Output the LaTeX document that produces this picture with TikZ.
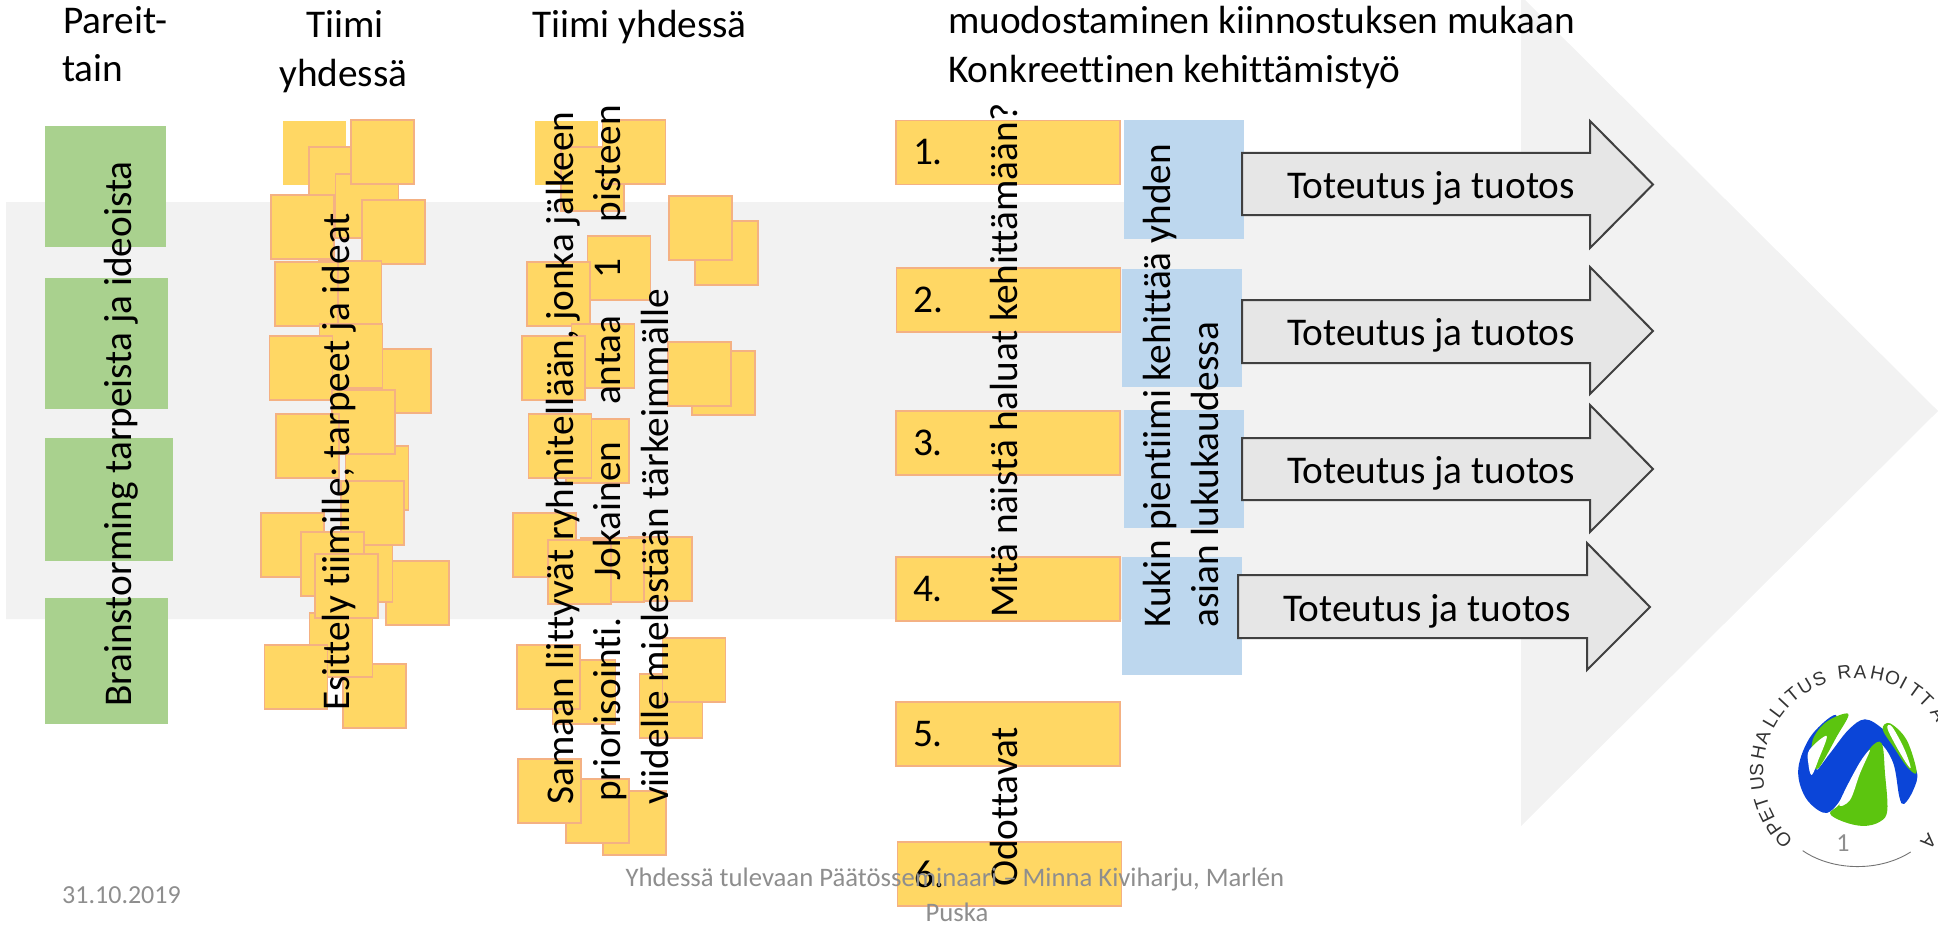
\documentclass[tikz,border=0pt]{standalone}
\usepackage{fontspec}
\setmainfont{Carlito}[Ligatures=CommonOff]
\newfontfamily\logofont{Liberation Sans}
\definecolor{notefill}{HTML}{FFD764}
\definecolor{noteline}{HTML}{F4B183}
\definecolor{greenfill}{HTML}{A9D18E}
\definecolor{bluefill}{HTML}{BDD7EE}
\definecolor{bigarrow}{HTML}{F2F2F2}
\definecolor{arrowfill}{HTML}{E6E6E6}
\definecolor{arrowline}{HTML}{404040}
\definecolor{footgray}{HTML}{8E8E8E}
\definecolor{logoblue}{HTML}{0B45D8}
\definecolor{logogreen}{HTML}{5CC50F}
\tikzset{
  bigtext/.style={font=\fontsize{39.3}{46}\selectfont,inner sep=0pt,anchor=base west},
  uptext/.style={bigtext,rotate=90},
  foottext/.style={font=\fontsize{26.7}{32}\selectfont,text=footgray,inner sep=0pt},
  plainnote/.style={fill=notefill,minimum width=63pt,minimum height=64pt,inner sep=0pt},
  stickynote/.style={plainnote,draw=noteline,line width=1.3pt},
  rowbox/.style={fill=notefill,draw=noteline,line width=1.3pt,minimum width=224pt,minimum height=64pt,
    inner xsep=17pt,inner ysep=0pt,text width=190pt,align=left,font=\fontsize{39.3}{46}\selectfont},
  bluebox/.style={fill=bluefill,minimum width=120pt,minimum height=118pt,inner sep=0pt},
  greenbox/.style={fill=greenfill,inner sep=0pt},
  doarrow/.style={fill=arrowfill,draw=arrowline,line width=2pt,miter limit=10},
  logoletter/.style={font=\logofont\fontsize{19}{19}\selectfont,text=black!80,inner sep=0pt}
}
\begin{document}
\begin{tikzpicture}[x=1pt,y=-1pt]
  \useasboundingbox (0,0) rectangle (1938,931);
  \clip (0,0) rectangle (1938,931);
  % Draw big background arrow
  \fill[bigarrow] (6,202) -- (1521,202) -- (1521,-4) -- (1938,411) -- (1521,826) -- (1521,619) -- (6,619) -- cycle;
  % Draw green boxes
  \node[greenbox,minimum width=121pt,minimum height=121pt] (g1) at (105.5,186.5) {};
  \node[greenbox,minimum width=123pt,minimum height=131pt] (g2) at (106.5,343.5) {};
  \node[greenbox,minimum width=128pt,minimum height=123pt] (g3) at (109,499.5) {};
  \node[greenbox,minimum width=123pt,minimum height=126pt] (g4) at (106.5,661) {};
  % Draw notes of the second column
  \node[plainnote] (ta1) at (314.5,153) {};
  \node[stickynote] (ta2) at (340.5,179) {};
  \node[stickynote] (ta3) at (367,206) {};
  \node[stickynote] (ta4) at (382.5,152) {};
  \node[stickynote] (ta5) at (302.5,227) {};
  \node[stickynote] (ta6) at (393.5,232) {};
  \node[stickynote] (ta7) at (350,293) {};
  \node[stickynote] (ta8) at (306.5,294) {};
  \node[stickynote] (ta9) at (399.5,381) {};
  \node[stickynote] (ta10) at (351,356) {};
  \node[stickynote] (ta11) at (301,368) {};
  \node[stickynote] (ta12) at (377,478) {};
  \node[stickynote] (ta13) at (363.5,422) {};
  \node[stickynote] (ta14) at (307.5,446) {};
  \node[stickynote] (ta15) at (292.5,545) {};
  \node[stickynote] (ta16) at (417.5,593) {};
  \node[stickynote] (ta17) at (361,570) {};
  \node[stickynote] (ta18) at (372.5,513) {};
  \node[stickynote] (ta19) at (332.5,564) {};
  \node[stickynote] (ta20) at (374.5,696) {};
  \node[stickynote] (ta21) at (341,645) {};
  \node[stickynote] (ta22) at (296,677) {};
  \node[stickynote] (ta23) at (346.5,586) {};
  % Draw notes of the third column
  \node[plainnote] (tb1) at (566.5,153) {};
  \node[stickynote] (tb2) at (592.5,179) {};
  \node[stickynote] (tb3) at (634,152) {};
  \node[stickynote] (tb4) at (726.5,253) {};
  \node[stickynote] (tb5) at (700.5,228) {};
  \node[stickynote] (tb6) at (619,268) {};
  \node[stickynote] (tb7) at (558.5,294) {};
  \node[stickynote] (tb8) at (603,356) {};
  \node[stickynote] (tb9) at (553.5,368) {};
  \node[stickynote] (tb10) at (723.5,383) {};
  \node[stickynote] (tb11) at (699.5,374) {};
  \node[stickynote] (tb12) at (597.5,451) {};
  \node[stickynote] (tb13) at (560,446) {};
  \node[stickynote] (tb14) at (544.5,545) {};
  \node[stickynote] (tb15) at (660.5,569) {};
  \node[stickynote] (tb16) at (612.5,570) {};
  \node[stickynote] (tb17) at (579.5,572) {};
  \node[stickynote] (tb18) at (584,692) {};
  \node[stickynote] (tb19) at (548.5,677) {};
  \node[stickynote] (tb20) at (671,706) {};
  \node[stickynote] (tb21) at (694,670) {};
  \node[stickynote] (tb22) at (634.5,823) {};
  \node[stickynote] (tb23) at (597.5,811) {};
  \node[stickynote] (tb24) at (549.5,791) {};
  % Draw numbered rows
  \node[rowbox] (r1) at (1008,152.5) {1.};
  \node[rowbox] (r2) at (1008.5,300) {2.};
  \node[rowbox] (r3) at (1008,443) {3.};
  \node[rowbox] (r4) at (1008,589) {4.};
  \node[rowbox] (r5) at (1008,734) {5.};
  \node[rowbox] (r6) at (1009.5,874) {6.};
  % Draw blue boxes
  \node[bluebox] (b1) at (1184,179.5) {};
  \node[bluebox] (b2) at (1182,328) {};
  \node[bluebox] (b3) at (1184,468.5) {};
  \node[bluebox] (b4) at (1182,616) {};
  % Draw result arrows
  \draw[doarrow] (1242,153) -- (1590,153) -- (1590,121) -- (1653,184.5) -- (1590,248) -- (1590,215) -- (1242,215) -- cycle;
  \draw[doarrow] (1242,300) -- (1590,300) -- (1590,267) -- (1653,331) -- (1590,394) -- (1590,363) -- (1242,363) -- cycle;
  \draw[doarrow] (1242,438) -- (1590,438) -- (1590,405) -- (1653,469) -- (1590,532) -- (1590,500) -- (1242,500) -- cycle;
  \draw[doarrow] (1238,575) -- (1587,575) -- (1587,543) -- (1650,607) -- (1587,670) -- (1587,638) -- (1238,638) -- cycle;
  \node[bigtext] (o1) at (1287,198) {Toteutus ja tuotos};
  \node[bigtext] (o2) at (1287,345) {Toteutus ja tuotos};
  \node[bigtext] (o3) at (1287,483) {Toteutus ja tuotos};
  \node[bigtext] (o4) at (1283,621) {Toteutus ja tuotos};
  % Draw titles
  \node[bigtext] (h1) at (63,34) {Pareit-};
  \node[bigtext] (h1b) at (62,82) {tain};
  \node[bigtext] (h2) at (306,38) {Tiimi};
  \node[bigtext] (h2b) at (279,87) {yhdessä};
  \node[bigtext] (h3) at (532,38) {Tiimi yhdessä};
  \node[bigtext] (h4) at (948,34) {muodostaminen kiinnostuksen mukaan};
  \node[bigtext] (h4b) at (948,83) {Konkreettinen kehittämistyö};
  % Draw vertical texts
  \node[uptext] (v1) at (131,707) {Brainstorming tarpeista ja ideoista};
  \node[uptext] (v2) at (349,711) {Esittely tiimille; tarpeet ja ideat};
  \node[uptext] (v3) at (573,805) {Samaan liittyvät ryhmitellään, jonka jälkeen};
  \node[uptext] (v3b) at (620,802) {\hbox to 697pt{priorisointi.\hfill Jokainen\hfill antaa\hfill 1\hfill pisteen}};
  \node[uptext] (v3c) at (668,805) {viidelle mielestään tärkeimmälle};
  \node[uptext] (v4) at (1017,618) {Mitä näistä haluat kehittämään?};
  \node[uptext] (v4b) at (1017,887) {Odottavat};
  \node[uptext] (v5) at (1170,628) {Kukin pientiimi kehittää yhden};
  \node[uptext] (v5b) at (1218,628) {asian lukukaudessa};
  % Draw footer
  \node[foottext,font=\fontsize{26}{32}\selectfont] (date) at (121.5,895) {31.10.2019};
  \node[foottext] (foot) at (955,880) {Yhdessä tulevaan Päätösseminaari -- Minna Kiviharju, Marlén};
  \node[foottext] (footb) at (957,912) {Puska};
  % Draw logo
  \begin{scope}[shift={(1680,640)},x=0.3333pt,y=-0.3333pt]
    \fill[logoblue] plot[smooth cycle,tension=0.6] coordinates {(470,228) (395,285) (355,385) (375,470) (430,518) (470,495) (520,410) (565,335) (600,310) (640,370) (658,470) (672,492) (700,450) (710,395) (660,320) (610,268) (555,238) (505,270) (450,340) (410,385)};
    \fill[logogreen] plot[smooth cycle,tension=0.6] coordinates {(398,300) (440,245) (505,222) (470,290) (415,385) (400,360)};
    \fill[white] plot[smooth cycle,tension=0.6] coordinates {(388,330) (440,288) (415,360) (395,405) (385,370)};
    \fill[logogreen] plot[smooth cycle,tension=0.6] coordinates {(608,268) (630,250) (680,300) (710,395) (685,385) (640,320)};
    \fill[white] plot[smooth cycle,tension=0.6] coordinates {(622,264) (636,260) (672,325) (692,382) (678,368) (645,312)};
    \fill[logogreen] plot[smooth cycle,tension=0.6] coordinates {(450,520) (480,490) (530,400) (570,325) (605,310) (615,400) (622,510) (600,545) (550,558) (490,545)};
    \fill[white] plot[smooth cycle,tension=0.6] coordinates {(478,490) (510,480) (540,400) (570,330) (535,375)};
    \draw[black!55,line width=0.9pt] (368,632) .. controls (460,695) and (600,695) .. (692,636);
    \foreach \ch/\ang [count=\i] in {O/223,P/214,E/206,T/198,U/187,S/179,H/169,A/160,L/150,L/143,I/137,T/130,U/121,S/112,R/97,A/88,H/78,O/69,I/62,T/54,T/46,A/35,A/-44}
      \node[logoletter,rotate=\ang-90] (ll\i) at ({530+300*cos(\ang)},{395-300*sin(\ang)}) {\ch};
  \end{scope}
  \node[foottext,font=\fontsize{26}{30}\selectfont] (num) at (1843,843) {1};
\end{tikzpicture}
\end{document}
